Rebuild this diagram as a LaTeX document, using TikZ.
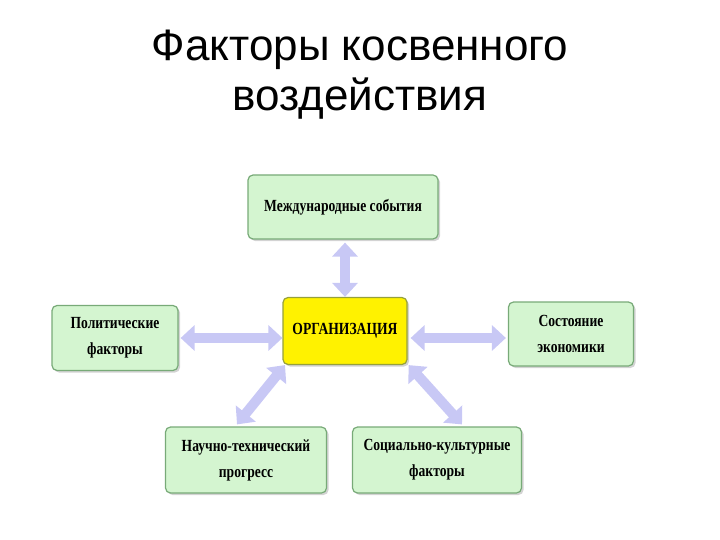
\documentclass[tikz,border=0pt]{standalone}
\usepackage{fontspec}
\setmainfont{Liberation Sans}
\newfontfamily\boxfont[FakeStretch=0.8]{Liberation Serif}
\usetikzlibrary{arrows.meta,shadows}
\definecolor{boxfill}{RGB}{212,245,208}
\definecolor{boxline}{RGB}{120,170,120}
\definecolor{arrowc}{RGB}{200,200,245}
\definecolor{orgline}{RGB}{150,160,60}
\tikzset{
  box/.style={draw=boxline, fill=boxfill, rounded corners=5pt, line width=1.2pt,
    drop shadow={opacity=0.35, shadow xshift=2pt, shadow yshift=-2pt},
    font=\boxfont\bfseries\fontsize{17}{26}\selectfont, align=center, inner sep=0pt},
  conn/.style={line width=10pt, draw=arrowc,
    {Triangle[width=25pt,length=14pt]}-{Triangle[width=25pt,length=14pt]}},
  titlestyle/.style={font=\fontsize{44}{50}\selectfont, align=center, inner sep=0pt}
}
\begin{document}
\begin{tikzpicture}[x=1pt,y=-1pt]
\useasboundingbox (0,0) rectangle (720,540);
\node[titlestyle] (title) at (360,75) {Факторы косвенного\\воздействия};
\node[box, minimum width=190pt, minimum height=64pt] (intl) at (343,207) {Международные события};
\node[box, fill=yellow, draw=orgline, minimum width=124pt, minimum height=67pt] (org) at (345,331) {ОРГАНИЗАЦИЯ};
\node[box, minimum width=126pt, minimum height=65pt] (pol) at (115,338) {Политические\\факторы};
\node[box, minimum width=125pt, minimum height=64pt] (econ) at (571,334) {Состояние\\экономики};
\node[box, minimum width=161pt, minimum height=66pt] (tech) at (246,460) {Научно-технический\\прогресс};
\node[box, minimum width=169pt, minimum height=66pt] (soc) at (437,460) {Социально-культурные\\факторы};
\draw[conn] ([xshift=2pt,yshift=-3pt]intl.south) -- ([xshift=0pt]org.north);
\draw[conn] ([xshift=2pt]pol.east) -- (pol.east -| org.west);
\draw[conn] ([xshift=3pt,yshift=-4pt]org.east |- econ.west) -- ([xshift=-2pt,yshift=-4pt]econ.west);
\draw[conn] ([xshift=-9pt,yshift=2pt]tech.north) -- ([xshift=-60pt]org.south);
\draw[conn] ([xshift=1pt]org.south east) -- ([xshift=25pt,yshift=2pt]soc.north);
\end{tikzpicture}
\end{document}
